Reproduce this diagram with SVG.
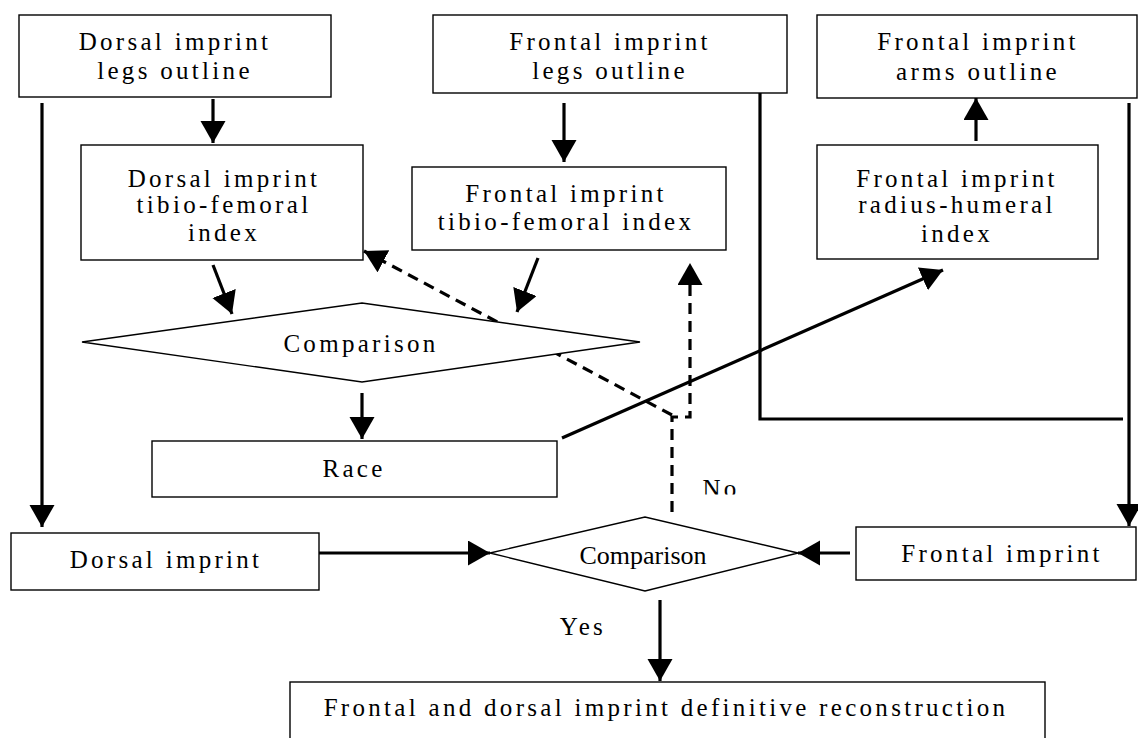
<svg xmlns="http://www.w3.org/2000/svg" width="1138" height="738" viewBox="0 0 1138 738">
<style>
.box{fill:#fff;stroke:#000;stroke-width:1.4}
.dia{fill:#fff;stroke:#000;stroke-width:1.4}
.t{font-family:"Liberation Serif","Times New Roman",serif;font-size:25px;letter-spacing:3.3px;text-anchor:middle;fill:#000}
.t2{font-family:"Liberation Serif","Times New Roman",serif;font-size:26px;text-anchor:middle;fill:#000}
.c{fill:none;stroke:#000;stroke-width:3.2}
.d{fill:none;stroke:#000;stroke-width:3.2;stroke-dasharray:11 7}
</style>
<defs>
<marker id="ah" markerUnits="userSpaceOnUse" markerWidth="24" markerHeight="26" refX="22" refY="12.5" orient="auto" viewBox="0 0 24 26">
<path d="M0,0 L22,12.5 L0,25 Z" fill="#000"/>
</marker>
<clipPath id="noclip"><rect x="690" y="465" width="70" height="29.5"/></clipPath>
</defs>
<rect width="1138" height="738" fill="#fff"/>
<g id="connectors">
<path class="c" d="M42,103 V527" marker-end="url(#ah)"/>
<path class="c" d="M213,99 V143" marker-end="url(#ah)"/>
<path class="c" d="M564,103 V162" marker-end="url(#ah)"/>
<path class="c" d="M213,265 L232,314" marker-end="url(#ah)"/>
<path class="c" d="M538,258 L517,312" marker-end="url(#ah)"/>
<path class="c" d="M362,393 V439" marker-end="url(#ah)"/>
<path class="c" d="M760,93 V419 H1123"/>
<path class="c" d="M1129,103 V526" marker-end="url(#ah)"/>
<path class="c" d="M976,141 V98" marker-end="url(#ah)"/>
<path class="c" d="M562,438 L943,270" marker-end="url(#ah)"/>
<path class="c" d="M319,553 H490" marker-end="url(#ah)"/>
<path class="c" d="M850,553 H798" marker-end="url(#ah)"/>
<path class="c" d="M660,600 V681" marker-end="url(#ah)"/>
<path class="d" d="M672,415 L364,251" marker-end="url(#ah)"/>
<path class="d" d="M672,512 V417 H690 V263" marker-end="url(#ah)"/>
</g>
<g id="n-dorsal-legs">
<rect class="box" x="19" y="15" width="312" height="82"/>
<text class="t" x="175" y="50">Dorsal imprint</text>
<text class="t" x="175" y="79">legs outline</text>
</g>
<g id="n-frontal-legs">
<rect class="box" x="433" y="15" width="354" height="78"/>
<text class="t" x="610" y="50">Frontal imprint</text>
<text class="t" x="610" y="79">legs outline</text>
</g>
<g id="n-frontal-arms">
<rect class="box" x="817" y="15" width="320" height="83"/>
<text class="t" x="978" y="50">Frontal imprint</text>
<text class="t" x="978" y="80">arms outline</text>
</g>
<g id="n-dorsal-tf">
<rect class="box" x="81" y="145" width="282" height="115"/>
<text class="t" x="224" y="187">Dorsal imprint</text>
<text class="t" x="224" y="213">tibio-femoral</text>
<text class="t" x="224" y="241">index</text>
</g>
<g id="n-frontal-tf">
<rect class="box" x="412" y="167" width="314" height="83"/>
<text class="t" x="566" y="202">Frontal imprint</text>
<text class="t" x="566" y="230">tibio-femoral index</text>
</g>
<g id="n-frontal-rh">
<rect class="box" x="817" y="145" width="281" height="114"/>
<text class="t" x="957" y="187">Frontal imprint</text>
<text class="t" x="957" y="213">radius-humeral</text>
<text class="t" x="957" y="242">index</text>
</g>
<g id="n-comparison1">
<polygon class="dia" points="82,342 362,303 640,342 362,382"/>
<text class="t" x="361" y="352">Comparison</text>
</g>
<g id="n-race">
<rect class="box" x="152" y="441" width="405" height="56"/>
<text class="t" x="354" y="477">Race</text>
</g>
<g id="n-dorsal">
<rect class="box" x="11" y="533" width="308" height="57"/>
<text class="t" x="166" y="568">Dorsal imprint</text>
</g>
<g id="n-comparison2">
<polygon class="dia" points="490,553 645,517 798,553 645,591"/>
<text class="t2" x="643" y="564">Comparison</text>
</g>
<g id="n-frontal">
<rect class="box" x="856" y="527" width="280" height="53"/>
<text class="t" x="1002" y="562">Frontal imprint</text>
</g>
<g id="n-final">
<rect class="box" x="290" y="682" width="755" height="80"/>
<text class="t" x="666" y="716">Frontal and dorsal imprint definitive reconstruction</text>
</g>
<g id="labels">
<text class="t" x="721" y="497" clip-path="url(#noclip)">No</text>
<text class="t" x="583" y="635">Yes</text>
</g>
</svg>
